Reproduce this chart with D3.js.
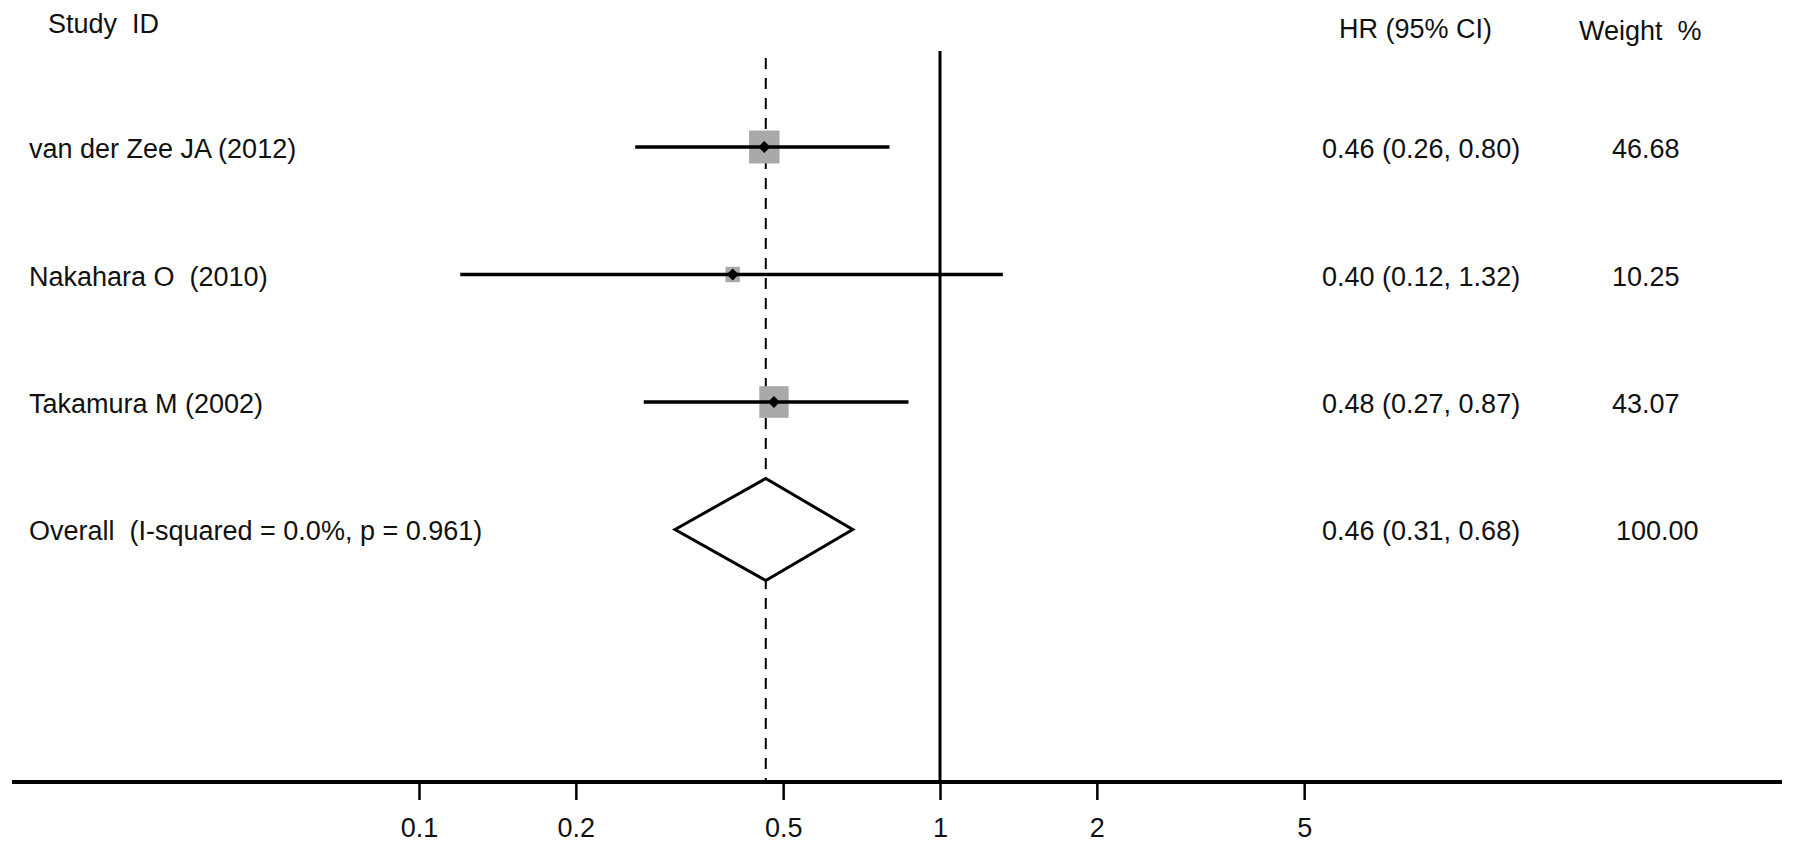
<!DOCTYPE html>
<html>
<head>
<meta charset="utf-8">
<script src="https://cdn.jsdelivr.net/npm/d3@7"></script>
<style>
  html, body { margin: 0; padding: 0; background: #fff; }
  svg { display: block; }
  text { font-family: "Liberation Sans", Arial, Helvetica, sans-serif; fill: #111; white-space: pre; }
</style>
</head>
<body>
<svg id="chart" width="1795" height="850"></svg>
<script>
// ---- data ----
const studies = ["van der Zee JA (2012)", "Nakahara O  (2010)", "Takamura M (2002)"];
const hr      = [0.46, 0.40, 0.48];
const lower   = [0.26, 0.12, 0.27];
const upper   = [0.80, 1.32, 0.87];
const weights = [46.68, 10.25, 43.07];
const hrText  = ["0.46 (0.26, 0.80)", "0.40 (0.12, 1.32)", "0.48 (0.27, 0.87)"];
const weightText = ["46.68", "10.25", "43.07"];

const overallLabel = "Overall  (I-squared = 0.0%, p = 0.961)";
const overallHR = 0.463, overallLower = 0.31, overallUpper = 0.68;
const overallHrText = "0.46 (0.31, 0.68)";
const overallWeightText = "100.00";

const tickValues = [0.1, 0.2, 0.5, 1, 2, 5];
const tickLabels = ["0.1", "0.2", "0.5", "1", "2", "5"];

// ---- layout ----
const svg = d3.select("#chart");
const x = d3.scaleLog().domain([0.1, 1]).range([419, 940]);
const y = d3.scaleLinear().domain([0, 3]).range([147, 529.5]);
const axisY = 782, plotTop = 51, dashTop = 58;
const axisLeft = 12, axisRight = 1782;
const fontSize = 27;
const boxK = 30.5 / Math.sqrt(46.68);

// headers
svg.append("text").attr("x", 48).attr("y", 33).attr("font-size", fontSize).text("Study  ID");
svg.append("text").attr("x", 1339).attr("y", 38).attr("font-size", fontSize).text("HR (95% CI)");
svg.append("text").attr("x", 1579).attr("y", 40).attr("font-size", fontSize).text("Weight  %");

// reference line at 1
svg.append("line")
  .attr("x1", x(1)).attr("x2", x(1))
  .attr("y1", plotTop).attr("y2", axisY)
  .attr("stroke", "#000").attr("stroke-width", 3);

// dashed line at overall estimate
svg.append("line")
  .attr("x1", x(overallHR)).attr("x2", x(overallHR))
  .attr("y1", dashTop).attr("y2", axisY)
  .attr("stroke", "#000").attr("stroke-width", 2)
  .attr("stroke-dasharray", "11,9");

// study rows
const rows = studies.map((s, i) => ({ s, hr: hr[i], lo: lower[i], hi: upper[i], w: weights[i], t: hrText[i], wt: weightText[i], i }));

const g = svg.append("g");
rows.forEach(d => {
  const cy = y(d.i);
  const bw = boxK * Math.sqrt(d.w), bh = bw * 1.08;
  g.append("rect")
    .attr("x", x(d.hr) - bw / 2).attr("y", cy - bh / 2)
    .attr("width", bw).attr("height", bh)
    .attr("fill", "#a9a9a9");
  g.append("line")
    .attr("x1", x(d.lo)).attr("x2", x(d.hi))
    .attr("y1", cy).attr("y2", cy)
    .attr("stroke", "#000").attr("stroke-width", 3.5);
  const r = 6, cx = x(d.hr);
  g.append("path")
    .attr("d", `M${cx},${cy - r}L${cx + r},${cy}L${cx},${cy + r}L${cx - r},${cy}Z`)
    .attr("fill", "#000");
  g.append("text").attr("x", 29).attr("y", cy + 11).attr("font-size", fontSize).text(d.s);
  g.append("text").attr("x", 1322).attr("y", cy + 11).attr("font-size", fontSize).text(d.t);
  g.append("text").attr("x", 1612).attr("y", cy + 11).attr("font-size", fontSize).text(d.wt);
});

// overall diamond
const oy = y(3), dh = 51;
svg.append("path")
  .attr("d", `M${x(overallLower)},${oy}L${x(overallHR)},${oy - dh}L${x(overallUpper)},${oy}L${x(overallHR)},${oy + dh}Z`)
  .attr("fill", "#fff").attr("stroke", "#000").attr("stroke-width", 3)
  .attr("stroke-linejoin", "miter");
svg.append("text").attr("x", 29).attr("y", oy + 10).attr("font-size", fontSize).text(overallLabel);
svg.append("text").attr("x", 1322).attr("y", oy + 10).attr("font-size", fontSize).text(overallHrText);
svg.append("text").attr("x", 1616).attr("y", oy + 10).attr("font-size", fontSize).text(overallWeightText);

// x axis
svg.append("line")
  .attr("x1", axisLeft).attr("x2", axisRight)
  .attr("y1", axisY).attr("y2", axisY)
  .attr("stroke", "#000").attr("stroke-width", 4);

const axis = d3.axisBottom(x)
  .tickValues(tickValues)
  .tickFormat((d, i) => tickLabels[i])
  .tickSize(18).tickSizeOuter(0);
const ag = svg.append("g").attr("transform", `translate(0,${axisY})`).call(axis);
ag.select(".domain").remove();
ag.selectAll(".tick line").attr("stroke", "#000").attr("stroke-width", 2.5);
ag.selectAll(".tick text")
  .attr("y", 55).attr("dy", 0)
  .attr("font-size", fontSize)
  .attr("font-family", '"Liberation Sans", Arial, sans-serif')
  .attr("fill", "#111");
</script>
</body>
</html>
